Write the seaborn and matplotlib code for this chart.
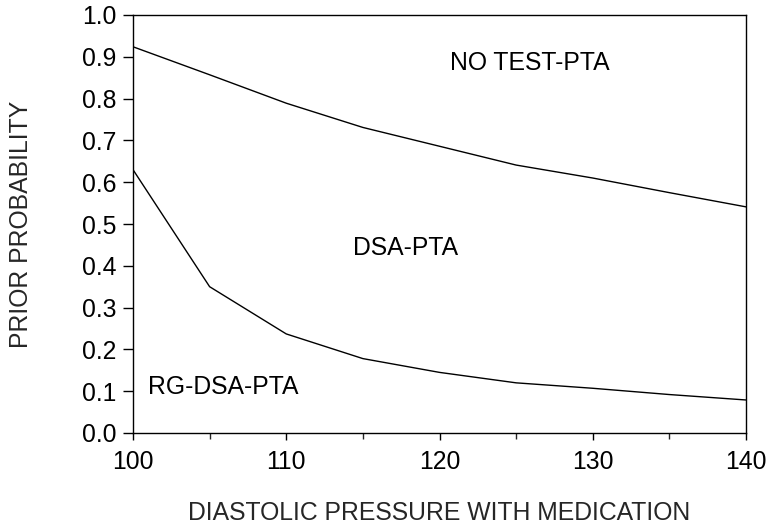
import matplotlib
matplotlib.use("Agg")
import matplotlib.pyplot as plt
import seaborn as sns
import pandas as pd
from matplotlib.ticker import MultipleLocator

# Data
pressure = [100, 105, 110, 115, 120, 125, 130, 135, 140]
upper_boundary = [0.924, 0.857, 0.789, 0.731, 0.686, 0.641, 0.610, 0.575, 0.541]
lower_boundary = [0.630, 0.350, 0.237, 0.178, 0.145, 0.120, 0.107, 0.092, 0.079]
region_labels = ["NO TEST-PTA", "DSA-PTA", "RG-DSA-PTA"]
region_x = [120.7, 114.35, 100.98]
region_y = [0.885, 0.443, 0.110]
x_ticks = [100, 110, 120, 130, 140]
y_ticks = [0.0, 0.1, 0.2, 0.3, 0.4, 0.5, 0.6, 0.7, 0.8, 0.9, 1.0]

df = pd.DataFrame({
    "pressure": pressure * 2,
    "prob": upper_boundary + lower_boundary,
    "curve": ["upper"] * len(pressure) + ["lower"] * len(pressure),
})

sns.set_theme(style="ticks")
plt.rcParams["font.family"] = ["Liberation Sans", "DejaVu Sans"]

FS = 17.8

fig = plt.figure(figsize=(7.67, 5.30), dpi=100)
ax = fig.add_axes([133 / 767, 1 - 433 / 530, (746 - 133) / 767, (433 - 15) / 530])

sns.lineplot(data=df, x="pressure", y="prob", hue="curve",
             palette={"upper": "black", "lower": "black"},
             linewidth=1.0, legend=False, ax=ax, sort=False,
             estimator=None)

for lab, xx, yy in zip(region_labels, region_x, region_y):
    ax.text(xx, yy, lab, fontsize=FS, ha="left", va="center", color="black")

ax.set_xlim(100, 140)
ax.set_ylim(0, 1.0)
ax.set_xticks(x_ticks)
ax.set_xticklabels([str(t) for t in x_ticks])
ax.set_yticks(y_ticks)
ax.set_yticklabels([f"{t:.1f}" for t in y_ticks])
ax.xaxis.set_minor_locator(MultipleLocator(5))

for s in ax.spines.values():
    s.set_visible(True)
    s.set_color("black")
    s.set_linewidth(1.0)

ax.tick_params(axis="y", which="major", direction="out", length=7, width=1,
               labelsize=FS, pad=5, colors="black")
ax.tick_params(axis="x", which="major", direction="out", length=5, width=1,
               labelsize=FS, pad=7, colors="black")
ax.tick_params(axis="x", which="minor", direction="out", length=4, width=1)

ax.set_xlabel("DIASTOLIC PRESSURE WITH MEDICATION", fontsize=FS, labelpad=20)
ax.set_ylabel("PRIOR PROBABILITY", fontsize=FS, labelpad=35)

fig.savefig("out.png", dpi=100, facecolor="white")
